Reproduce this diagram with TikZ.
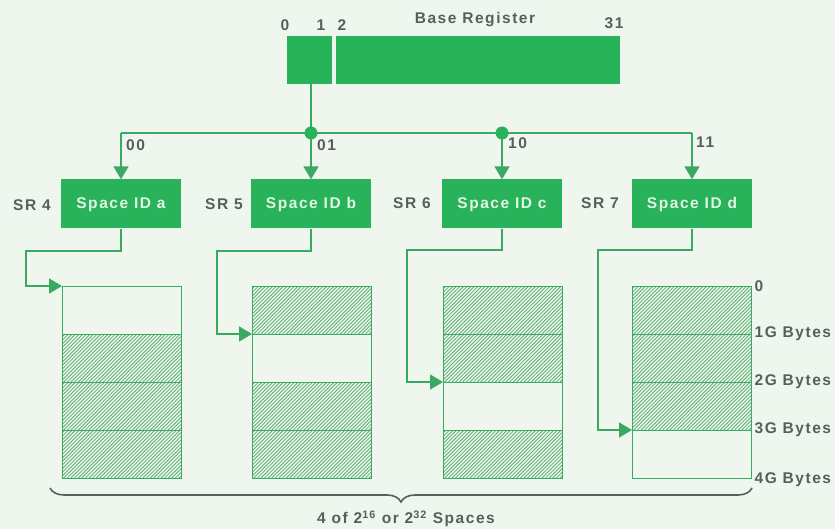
\documentclass[tikz,border=0pt]{standalone}
\usepackage{fontspec}
\setmainfont{Liberation Sans}
\newfontfamily\labfont{Liberation Sans}[LetterSpace=10]
\usetikzlibrary{arrows.meta,decorations.pathreplacing}

\definecolor{paper}{RGB}{239,246,238}
\definecolor{idgreen}{RGB}{40,178,90}
\definecolor{wiregreen}{RGB}{58,170,98}
\definecolor{hatchgreen}{RGB}{88,176,114}
\definecolor{inkgray}{RGB}{88,94,92}
\definecolor{idtext}{RGB}{226,246,228}

\begin{document}
\begin{tikzpicture}[x=1pt,y=-1pt,
  wire/.style={draw=wiregreen,line width=1.6pt},
  arr/.style={wire,-{Triangle[width=15pt,length=13pt]}},
  lbl/.style={text=inkgray,font=\labfont\bfseries\fontsize{15.5}{17}\selectfont,inner sep=0pt},
  regbox/.style={fill=idgreen,draw=none,minimum height=48pt,inner sep=0pt,anchor=north west},
  sid/.style={fill=idgreen,draw=none,minimum width=120pt,minimum height=49pt,inner sep=0pt,
    text height=11pt,text depth=1pt,
    text=idtext,font=\labfont\bfseries\fontsize{15.5}{17}\selectfont},
  slot/.style={draw=wiregreen,line width=1.4pt,minimum width=119pt,minimum height=48pt,
    inner sep=0pt,anchor=north west},
  hatched/.style={slot,path picture={
    \foreach \k in {-50,-46.4,...,122}
      \draw[hatchgreen,line width=0.8pt]
        ([xshift=\k pt]path picture bounding box.south west) -- ++(60,-60);}},
  brace/.style={draw=inkgray,line width=1.6pt,
    decorate,decoration={brace,amplitude=14pt}}]

% page and background
\fill[paper] (0,0) rectangle (835,529);
\useasboundingbox (0,0) rectangle (835,529);

% base register, bits 0-1 and 2-31
\node[regbox,minimum width=45pt] (reg0) at (287,36) {};
\node[regbox,minimum width=284pt] (reg2) at (336,36) {};
\node[lbl] (b0) at (285,25) {0};
\node[lbl] (b1) at (321,25) {1};
\node[lbl] (b2) at (342,25) {2};
\node[lbl] (b31) at (614,23) {31};
\node[lbl] (title) at (475,20) {Base Register};

% space registers
\node[sid] (sida) at (121,204) {Space ID a};
\node[sid] (sidb) at (311,204) {Space ID b};
\node[sid] (sidc) at (502,204) {Space ID c};
\node[sid] (sidd) at (692,204) {Space ID d};
\node[lbl] (sr4) at (32,205) {SR 4};
\node[lbl] (sr5) at (224,204) {SR 5};
\node[lbl] (sr6) at (412,203) {SR 6};
\node[lbl] (sr7) at (600,203) {SR 7};

% selector tree
\coordinate (t00) at (121,133);
\coordinate (j01) at (311,133);
\coordinate (j10) at (502,133);
\coordinate (t11) at (692,133);
\draw[wire] (reg0.south -| j01) -- (j01);
\draw[wire] (t00) -- (t11);
\draw[arr] (t00) -- (sida.north);
\draw[arr] (j01) -- (sidb.north);
\draw[arr] (j10) -- (sidc.north);
\draw[arr] (t11) -- (sidd.north);
\fill[idgreen] (j01) circle (6.5);
\fill[idgreen] (j10) circle (6.5);
\node[lbl,anchor=west] (l00) at (126,145) {00};
\node[lbl,anchor=west] (l01) at (317,145) {01};
\node[lbl,anchor=west] (l10) at (508,143) {10};
\node[lbl,anchor=west] (l11) at (696,142) {11};

% address spaces, four quarters each
\node[slot]    (ma0) at (62,286) {};
\node[hatched] (ma1) at (62,334) {};
\node[hatched] (ma2) at (62,382) {};
\node[hatched] (ma3) at (62,430) {};

\node[hatched] (mb0) at (252,286) {};
\node[slot]    (mb1) at (252,334) {};
\node[hatched] (mb2) at (252,382) {};
\node[hatched] (mb3) at (252,430) {};

\node[hatched] (mc0) at (443,286) {};
\node[hatched] (mc1) at (443,334) {};
\node[slot]    (mc2) at (443,382) {};
\node[hatched] (mc3) at (443,430) {};

\node[hatched] (md0) at (632,286) {};
\node[hatched] (md1) at (632,334) {};
\node[hatched] (md2) at (632,382) {};
\node[slot]    (md3) at (632,430) {};

% links from each space ID to its quarter
\coordinate (ka) at (26,251);
\coordinate (kb) at (217,251);
\coordinate (kc) at (407,250);
\coordinate (kd) at (598,250);
\draw[arr] (sida.south) |- (ka) |- (ma0.north west);
\draw[arr] (sidb.south) |- (kb) |- (mb1.north west);
\draw[arr] (sidc.south) |- (kc) |- (mc2.north west);
\draw[arr] (sidd.south) |- (kd) |- (md3.north west);

% offsets
\node[lbl,anchor=west] (o0) at ([xshift=2pt]md0.north east) {0};
\node[lbl,anchor=west] (o1) at ([xshift=2pt]md1.north east) {1G Bytes};
\node[lbl,anchor=west] (o2) at ([xshift=2pt]md2.north east) {2G Bytes};
\node[lbl,anchor=west] (o3) at ([xshift=2pt]md3.north east) {3G Bytes};
\node[lbl,anchor=west] (o4) at ([xshift=2pt]md3.south east) {4G Bytes};

% brace and caption
\coordinate (br) at (752,488);
\coordinate (bl) at (50,488);
\draw[brace] (br) -- (bl);
\node[lbl] (cap) at (406,519) {4 of 2\textsuperscript{16} or 2\textsuperscript{32} Spaces};
\end{tikzpicture}
\end{document}
